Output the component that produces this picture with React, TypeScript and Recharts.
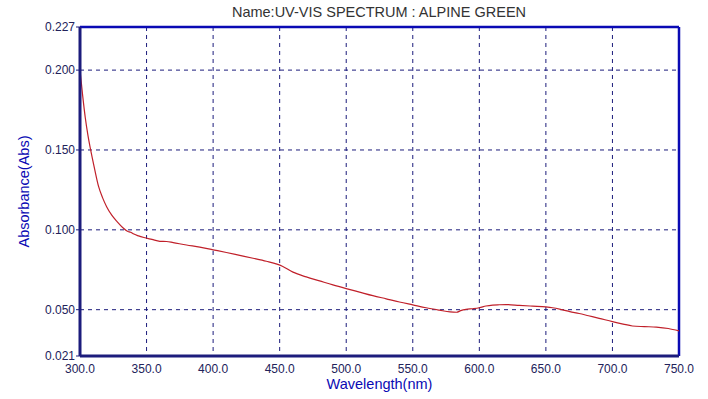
import React from "react";
import {
  CartesianGrid,
  Line,
  LineChart,
  ReferenceLine,
  XAxis,
  YAxis,
} from "recharts";

// wavelength (nm) and absorbance
const WAVELENGTH = [
  300, 302, 304, 306, 308, 311, 314, 317, 320, 324, 328, 332, 336, 338, 340,
  344, 348, 354, 360, 365, 370, 380, 390, 400, 410, 420, 430, 440, 448, 452,
  460, 470, 480, 490, 500, 510, 520, 530, 540, 550, 560, 570, 578, 583, 586,
  590, 595, 600, 605, 610, 615, 620, 630, 640, 650, 655, 662, 668, 675, 682,
  690, 700, 708, 715, 724, 733, 742, 750,
];
const ABSORBANCE = [
  0.2, 0.184, 0.17, 0.159, 0.15, 0.138, 0.127, 0.12, 0.1145, 0.109, 0.105,
  0.1015, 0.099, 0.0985, 0.0975, 0.0962, 0.0952, 0.094, 0.0928, 0.0927,
  0.092, 0.0905, 0.0892, 0.0875, 0.0858, 0.084, 0.0822, 0.0803, 0.0785,
  0.0772, 0.0735, 0.0705, 0.068, 0.0655, 0.0632, 0.061, 0.0588, 0.0568,
  0.0548, 0.053, 0.0512, 0.0497, 0.0486, 0.0484, 0.0494, 0.0502, 0.0506,
  0.0512, 0.0523, 0.0529, 0.0531, 0.0532, 0.0527, 0.0522, 0.0517, 0.0512,
  0.05, 0.0488, 0.0476, 0.0462, 0.0446, 0.0425, 0.041, 0.0398, 0.0394,
  0.0391, 0.0382, 0.0367,
];
const X_TICKS = [300, 350, 400, 450, 500, 550, 600, 650, 700, 750];
const Y_TICKS = [0.021, 0.05, 0.1, 0.15, 0.2, 0.227];

const data = WAVELENGTH.map((w, i) => ({ w, abs: ABSORBANCE[i] }));

const FONT = "'Liberation Sans', Arial, sans-serif";
const NAVY = "#1c1c7c";
const BLUE = "#0a0ab4";

export default function App() {
  return (
    <div style={{ width: 708, height: 399, position: "relative", background: "#fff" }}>
      <style>{`body{margin:0}`}</style>
      <div
        style={{
          position: "absolute",
          top: 4,
          left: 0,
          width: 758,
          textAlign: "center",
          fontFamily: FONT,
          fontSize: 14.5,
          color: "#333",
        }}
      >
        Name:UV-VIS SPECTRUM : ALPINE GREEN
      </div>
      <LineChart
        width={708}
        height={399}
        data={data}
        margin={{ top: 27, right: 29, bottom: 0, left: 0 }}
      >
        <CartesianGrid
          stroke={NAVY}
          strokeDasharray="4 4"
          strokeWidth={1}
          horizontalValues={[0.05, 0.1, 0.15, 0.2]}
          verticalValues={[350, 400, 450, 500, 550, 600, 650, 700]}
        />
        <XAxis
          dataKey="w"
          type="number"
          domain={[300, 750]}
          ticks={X_TICKS}
          tickFormatter={(v: number) => v.toFixed(1)}
          tick={{ fill: "#22225a", fontSize: 12, fontFamily: FONT }}
          tickLine={false}
          axisLine={{ stroke: NAVY, strokeWidth: 3 }}
          tickMargin={2}
          height={43}
          label={{
            value: "Wavelength(nm)",
            position: "insideBottom",
            offset: 10,
            fill: BLUE,
            fontSize: 14.5,
            fontFamily: FONT,
          }}
        />
        <YAxis
          type="number"
          domain={[0.021, 0.227]}
          ticks={Y_TICKS}
          tickFormatter={(v: number) => v.toFixed(3)}
          tick={{ fill: "#22225a", fontSize: 12, fontFamily: FONT }}
          tickSize={4}
          tickLine={{ stroke: NAVY }}
          axisLine={{ stroke: NAVY, strokeWidth: 3 }}
          width={80}
          tickMargin={1}
          label={{
            value: "Absorbance(Abs)",
            angle: -90,
            position: "insideLeft",
            offset: 24,
            fill: BLUE,
            fontSize: 14.5,
            fontFamily: FONT,
            style: { textAnchor: "middle" },
          }}
        />
        <ReferenceLine y={0.227} stroke={BLUE} strokeWidth={2.5} />
        <ReferenceLine x={750} stroke={BLUE} strokeWidth={2.5} />
        <Line
          type="monotone"
          dataKey="abs"
          stroke="#c0202a"
          strokeWidth={1.2}
          dot={false}
          isAnimationActive={false}
        />
      </LineChart>
    </div>
  );
}
